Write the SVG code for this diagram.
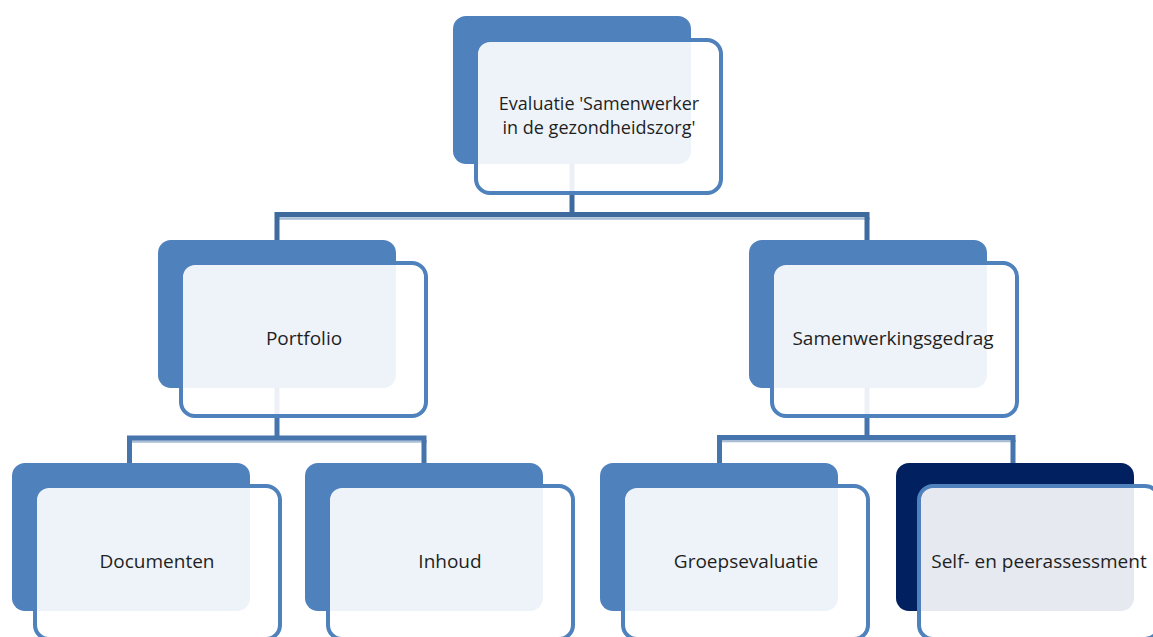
<svg xmlns="http://www.w3.org/2000/svg" width="1153" height="637" viewBox="0 0 1153 637">
  <style>
    .back { fill: #4F81BD; }
    .back.dark { fill: #002060; }
    .front { fill: #FFFFFF; fill-opacity: 0.9; stroke: #4F81BD; stroke-width: 4; }
    .lbl { font-family: "Open Sans", "Liberation Sans", sans-serif; font-size: 19px; fill: #1F1F1F; text-anchor: middle; }
    .lbl.small { font-size: 18px; }
    .conn { fill: none; stroke: #4674AC; stroke-width: 5; stroke-linecap: butt; }
    .conn.top { stroke: #3F6A9E; }
    .shade { fill: none; stroke: #A9BDD5; stroke-width: 2.5; }
  </style>
  <rect width="1153" height="637" fill="#FFFFFF"/>
  <g id="connectors">
    <line class="shade" x1="275" y1="218.5" x2="870" y2="218.5"/>
    <polyline class="conn top" points="572,160 572,214.5"/>
    <polyline class="conn top" points="277,240 277,214.5 867,214.5 867,240"/>
    <line class="shade" x1="127" y1="441.5" x2="427" y2="441.5"/>
    <polyline class="conn" points="277,385 277,438"/>
    <polyline class="conn" points="129.5,463 129.5,438 424,438 424,463"/>
    <line class="shade" x1="717" y1="441" x2="1016" y2="441"/>
    <polyline class="conn" points="867,385 867,437.5"/>
    <polyline class="conn" points="719.5,463 719.5,437.5 1013,437.5 1013,463"/>
  </g>
  <g id="node-evaluatie">
    <rect class="back" x="453" y="16" width="238" height="148" rx="13"/>
    <rect class="front" x="476" y="40" width="245" height="153" rx="14"/>
    <text class="lbl small" x="599" y="109.5">Evaluatie 'Samenwerker</text>
    <text class="lbl small" x="599" y="134">in de gezondheidszorg'</text>
  </g>
  <g id="node-portfolio">
    <rect class="back" x="158" y="240" width="238" height="148" rx="13"/>
    <rect class="front" x="181" y="263" width="245" height="153" rx="14"/>
    <text class="lbl" x="304" y="345">Portfolio</text>
  </g>
  <g id="node-samenwerkingsgedrag">
    <rect class="back" x="749" y="240" width="238" height="148" rx="13"/>
    <rect class="front" x="772" y="263" width="245" height="153" rx="14"/>
    <text class="lbl" x="893" y="345">Samenwerkingsgedrag</text>
  </g>
  <g id="node-documenten">
    <rect class="back" x="12" y="463" width="238" height="148" rx="13"/>
    <rect class="front" x="35" y="486" width="245" height="153" rx="14"/>
    <text class="lbl" x="157" y="568">Documenten</text>
  </g>
  <g id="node-inhoud">
    <rect class="back" x="305" y="463" width="238" height="148" rx="13"/>
    <rect class="front" x="328" y="486" width="245" height="153" rx="14"/>
    <text class="lbl" x="450" y="568">Inhoud</text>
  </g>
  <g id="node-groepsevaluatie">
    <rect class="back" x="600" y="463" width="238" height="148" rx="13"/>
    <rect class="front" x="623" y="486" width="245" height="153" rx="14"/>
    <text class="lbl" x="746" y="568">Groepsevaluatie</text>
  </g>
  <g id="node-self-peer">
    <rect class="back dark" x="896" y="463" width="238" height="148" rx="13"/>
    <rect class="front" x="919" y="486" width="240" height="153" rx="14"/>
    <text class="lbl" x="1039" y="568">Self- en peerassessment</text>
  </g>
</svg>
